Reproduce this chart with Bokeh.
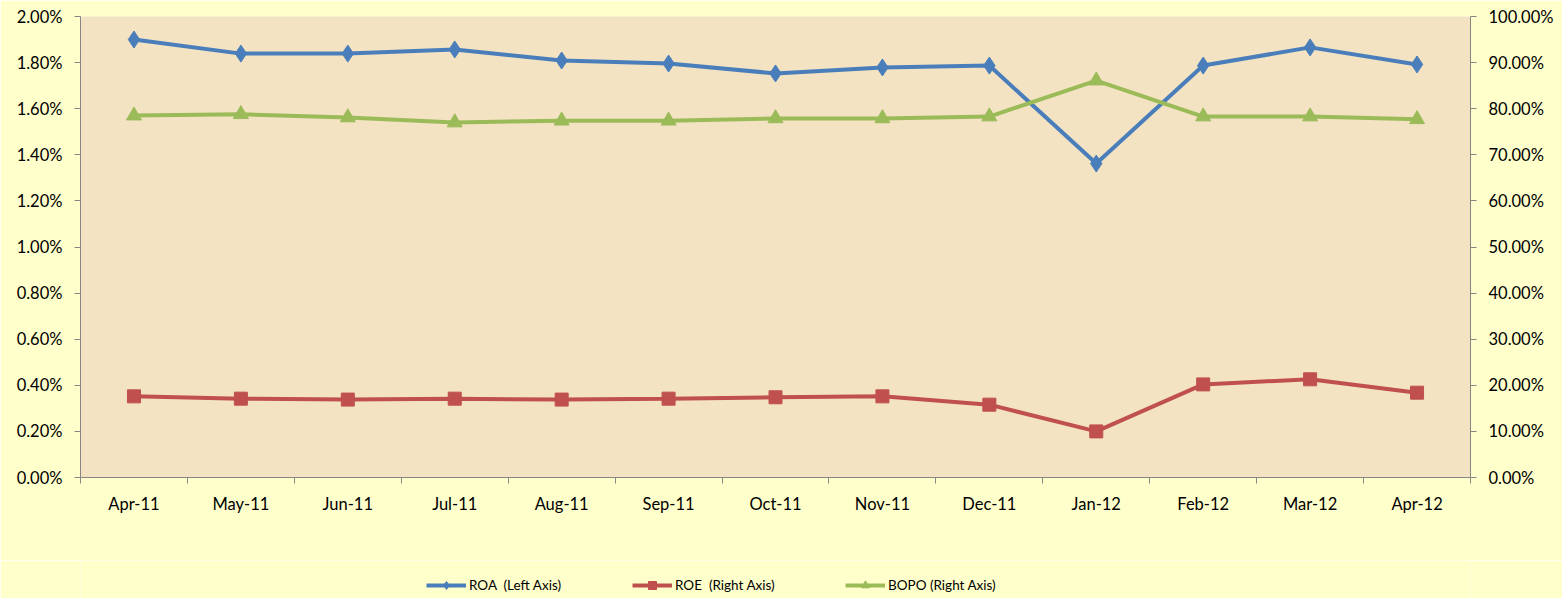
from bokeh.plotting import figure
from bokeh.layouts import column
from bokeh.models import (Range1d, LinearAxis, FixedTicker, NumeralTickFormatter,
                          Legend, LegendItem)
from bokeh.embed import file_html
from bokeh.resources import INLINE

months = ["Apr-11", "May-11", "Jun-11", "Jul-11", "Aug-11", "Sep-11", "Oct-11",
          "Nov-11", "Dec-11", "Jan-12", "Feb-12", "Mar-12", "Apr-12"]
roa = [0.01900, 0.01839, 0.01839, 0.01857, 0.01809, 0.01796, 0.01753,
       0.01779, 0.01787, 0.01362, 0.01787, 0.01866, 0.01792]
roe = [0.176, 0.171, 0.169, 0.171, 0.169, 0.171, 0.174,
       0.176, 0.158, 0.100, 0.202, 0.213, 0.184]
bopo = [0.785, 0.788, 0.781, 0.770, 0.774, 0.774, 0.779,
        0.779, 0.783, 0.861, 0.783, 0.783, 0.777]
left_ticks = [0.0, 0.002, 0.004, 0.006, 0.008, 0.010, 0.012, 0.014, 0.016, 0.018, 0.020]
right_ticks = [0.0, 0.1, 0.2, 0.3, 0.4, 0.5, 0.6, 0.7, 0.8, 0.9, 1.0]
legend_labels = ["ROA  (Left Axis)", "ROE  (Right Axis)", "BOPO (Right Axis)"]

n = len(months)
xs = [i + 0.5 for i in range(n)]
bounds = list(range(n + 1))

FONT = "Lato"
AXIS_COLOR = "#868686"
BG = "#FFFFCC"
BLUE = "#4A7EBB"
RED = "#C0504D"
GREEN = "#9BBB59"

p = figure(width=1562, height=560, output_backend="svg", toolbar_location=None,
           x_range=Range1d(0, n), y_range=Range1d(0, 0.02),
           min_border_left=80, min_border_right=92, min_border_top=16,
           min_border_bottom=83)
p.extra_y_ranges = {"right": Range1d(0, 1.0)}
p.border_fill_color = BG
p.background_fill_color = "#F3E3C3"
p.outline_line_color = None
p.xgrid.visible = False
p.ygrid.visible = False

# x axis: labels at category centres, tick marks at boundaries
xa = p.xaxis[0]
xa.ticker = FixedTicker(ticks=xs, minor_ticks=bounds)
xa.major_label_overrides = {x: m for x, m in zip(xs, months)}
xa.major_tick_out = 0
xa.major_tick_in = 0
xa.minor_tick_out = 6
xa.minor_tick_in = 0
xa.major_label_standoff = 10

ya = p.yaxis[0]
ya.ticker = FixedTicker(ticks=left_ticks)
ya.formatter = NumeralTickFormatter(format="0.00%")
ya.major_tick_out = 6
ya.major_tick_in = 0
ya.minor_tick_out = 0
ya.minor_tick_in = 0
ya.major_label_standoff = 12

ra = LinearAxis(y_range_name="right", ticker=FixedTicker(ticks=right_ticks),
                formatter=NumeralTickFormatter(format="0.00%"))
ra.major_tick_out = 6
ra.major_tick_in = 0
ra.minor_tick_out = 0
ra.minor_tick_in = 0
ra.major_label_standoff = 12
p.add_layout(ra, "right")

for ax in [xa, ya, ra]:
    ax.axis_line_color = AXIS_COLOR
    ax.major_tick_line_color = AXIS_COLOR
    ax.minor_tick_line_color = AXIS_COLOR
    ax.major_label_text_font = FONT
    ax.major_label_text_font_size = "16.5px"
    ax.major_label_text_color = "#000000"

p.line(xs, roa, line_color=BLUE, line_width=4)
p.scatter(xs, roa, marker="diamond", size=17, fill_color=BLUE, line_color=BLUE)
p.line(xs, roe, line_color=RED, line_width=4, y_range_name="right")
p.scatter(xs, roe, marker="square", size=13, fill_color=RED, line_color=RED,
          y_range_name="right")
p.line(xs, bopo, line_color=GREEN, line_width=4, y_range_name="right")
p.scatter(xs, bopo, marker="triangle", size=15, fill_color=GREEN, line_color=GREEN,
          y_range_name="right")

# legend strip below the chart (its series are drawn outside its visible range,
# only the legend swatches show)
lg = figure(width=1562, height=38, output_backend="svg", toolbar_location=None,
            x_axis_location=None, y_axis_location=None,
            x_range=Range1d(100, 101), y_range=Range1d(100, 101),
            min_border_left=80, min_border_right=92, min_border_top=0,
            min_border_bottom=0)
lg.border_fill_color = BG
lg.background_fill_color = BG
lg.outline_line_color = None
lg.grid.visible = False

series = [roa, roe, bopo]
specs = [(BLUE, "diamond", 346), (RED, "square", 552), (GREEN, "triangle", 765)]
for label, ys, (col, mk, x0) in zip(legend_labels, series, specs):
    lr = lg.line(xs, ys, line_color=col, line_width=4)
    mr = lg.scatter(xs, ys, marker=mk, fill_color=col, line_color=col)
    leg = Legend(items=[LegendItem(label=label, renderers=[lr, mr])],
                 orientation="horizontal", location=(x0, 3))
    leg.padding = 0
    leg.margin = 0
    leg.glyph_width = 40
    leg.glyph_height = 20
    leg.label_height = 20
    leg.label_standoff = 3
    leg.label_text_font = FONT
    leg.label_text_font_size = "13.5px"
    leg.label_text_color = "#000000"
    leg.border_line_color = None
    leg.background_fill_alpha = 0
    lg.add_layout(leg, "center")

open("out.html", "w").write(file_html(column(p, lg, spacing=0), INLINE))
